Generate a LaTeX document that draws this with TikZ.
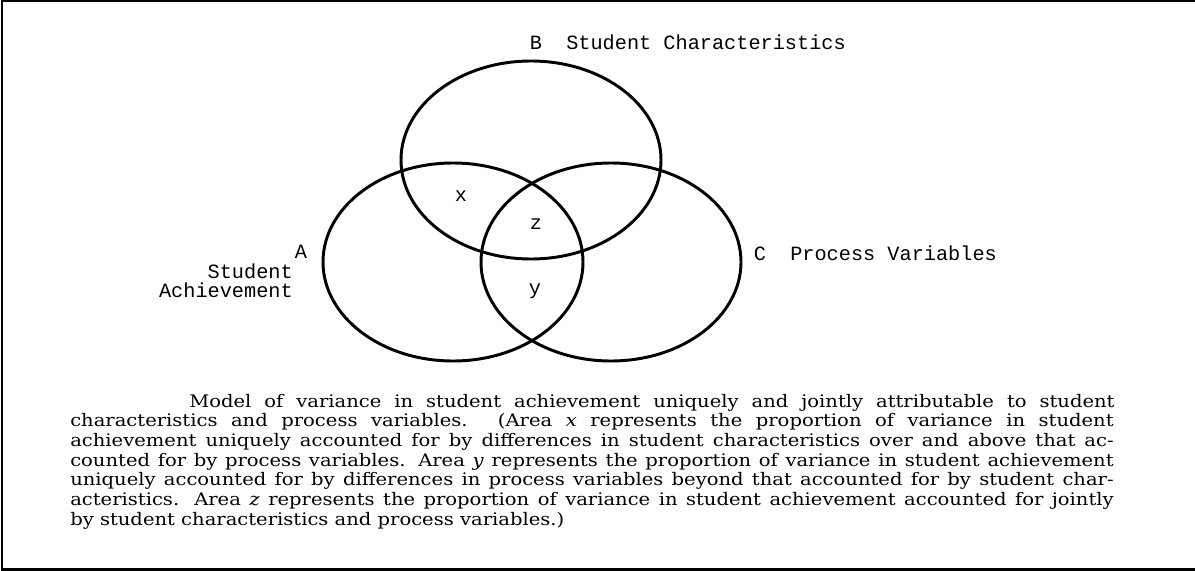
\documentclass[tikz,border=0pt]{standalone}
\usepackage{fontspec}
\setmainfont{DejaVu Serif}[FakeStretch=1.13]
\setmonofont{Liberation Mono}
\newcommand{\fullline}[1]{\makebox[742pt][s]{#1}}

\begin{document}
\begin{tikzpicture}[x=0.025cm,y=-0.025cm,
    set/.style={line width=2.1pt},
    tlabel/.style={font=\fontsize{14.4}{17}\selectfont\ttfamily,inner sep=0pt},
    capline/.style={font=\fontsize{12.3}{15}\selectfont,inner sep=0pt,anchor=base west}]
    \useasboundingbox (0,0) rectangle (1195,571);
    %frame, open on the right
    \draw [line width=1.5pt] (1195,1) -- (2,1) -- (2,569.5) -- (1195,569.5);
    %sets
    \coordinate (A) at (453,262);
    \coordinate (B) at (531,160);
    \coordinate (C) at (611,262);
    \draw [set] (A) ellipse [x radius=130, y radius=99];
    \draw [set] (B) ellipse [x radius=130, y radius=99];
    \draw [set] (C) ellipse [x radius=130, y radius=99];
    %set labels
    \node [tlabel,anchor=base] (labB) at (536,50){B};
    \node [tlabel,anchor=base west] (nameB) at (566,50){Student Characteristics};
    \node [tlabel,anchor=base] (labC) at (760,260){C};
    \node [tlabel,anchor=base west] (nameC) at (790,260){Process Variables};
    \node [tlabel,anchor=base] (labA) at (301,258){A};
    \node [tlabel,anchor=base east] (nameA) at (293,278){Student};
    \node [tlabel,anchor=base east] (nameAA) at (293,297){Achievement};
    %areas
    \node [tlabel,anchor=base] (x) at (461,201){x};
    \node [tlabel,anchor=base] (z) at (536,229){z};
    \node [tlabel,anchor=base] (y) at (535,294){y};
    %caption
    \node [capline] (cap1) at (189,407){\makebox[658pt][s]{Model of variance in student achievement uniquely and jointly attributable to student}};
    \node [capline] (cap2) at (70,426.7){\fullline{characteristics and process variables.  (Area \textit{x} represents the proportion of variance in student}};
    \node [capline] (cap3) at (70,446.3){\fullline{achievement uniquely accounted for by differences in student characteristics over and above that ac-}};
    \node [capline] (cap4) at (70,466){\fullline{counted for by process variables.  Area \textit{y} represents the proportion of variance in student achievement}};
    \node [capline] (cap5) at (70,485.7){\fullline{uniquely accounted for by differences in process variables beyond that accounted for by student char-}};
    \node [capline] (cap6) at (70,505.3){\fullline{acteristics.  Area \textit{z} represents the proportion of variance in student achievement accounted for jointly}};
    \node [capline] (cap7) at (70,525){by student characteristics and process variables.)};
\end{tikzpicture}
\end{document}
